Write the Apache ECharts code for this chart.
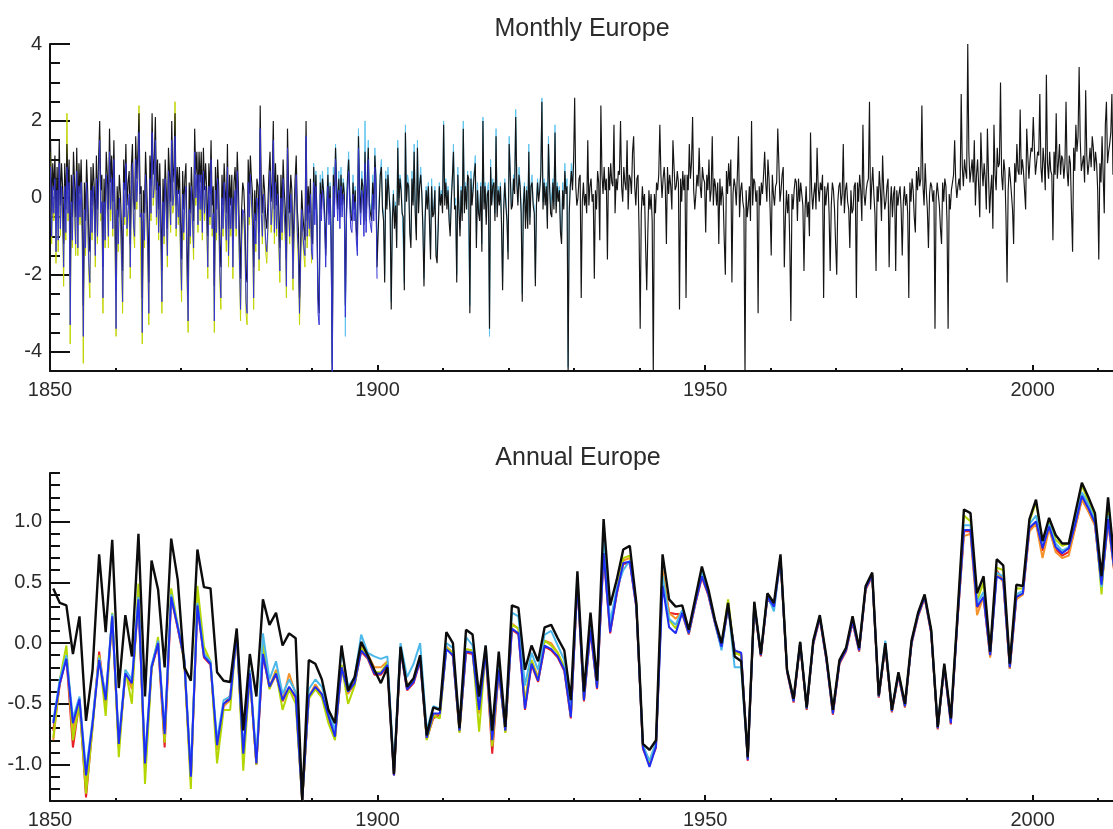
<!DOCTYPE html>
<html><head><meta charset="utf-8">
<script src="https://cdn.jsdelivr.net/npm/echarts@6/dist/echarts.min.js"></script>
<style>html,body{margin:0;padding:0;background:#fff}#c{width:1113px;height:829px}</style>
</head><body><div id="c"></div>
<script>
// ---------- DATA ----------
const START_YEAR = 1850;
const SAMPLES_PER_YEAR = 6;           // monthly panel: values read at ~bi-monthly resolution
const xTickValues = [1850, 1900, 1950, 2000];
const monthlyYTicks = [-4, -2, 0, 2, 4];
const annualYTicks = [-1, -0.5, 0, 0.5, 1];
const monthlyTitle = 'Monthly Europe';
const annualTitle = 'Annual Europe';

// Monthly panel, black series (6 values per year from 1850)
const monthlyBlack = [
 1.5,-0.4,0.9,0.2,1.1,-0.6, 0.8,-0.4,1.5,-0.2,0.9,0.3, -1.2,0.9,-0.3,1.4,0.2,1.0, -2.0,0.6,-0.5,1.2,0.4,-0.5, 1.3,-0.6,0.9,0.1,1.0,-0.2,
 -2.8,0.4,-0.6,1.0,0.2,-1.0, -1.4,0.8,-0.2,0.9,0.3,-0.9, 1.1,-0.3,1.0,2.0,0.2,0.6, -1.8,0.5,-0.4,1.2,0.6,-0.3, 1.8,0.4,1.1,-0.1,1.5,-0.2,
 -2.4,0.3,-0.5,0.6,0.1,-0.8, -1.9,1.0,0.2,1.4,-0.2,0.4, 0.7,-1.2,0.8,1.4,-0.1,-0.3, 1.6,0.5,1.2,2.2,0.1,0.3, -2.6,0.2,-0.4,1.2,0.4,-0.6,
 -2.2,1.1,0.3,2.2,0.6,1.0, 2.1,0.2,1.0,-0.3,0.9,-0.3, -1.9,0.5,-0.4,1.0,0.2,-0.8, 1.3,0.6,-0.1,2.0,0.4,0.8, 2.2,-0.2,0.8,0.1,0.8,-0.6,
 -1.6,0.7,-0.3,0.5,0.9,-1.2, -2.4,0.4,-0.4,0.8,0.0,-0.6, 1.8,0.6,1.2,-0.1,1.2,0.4, 1.2,-0.3,1.3,0.2,0.9,0.2, -1.0,0.9,0.1,1.5,-0.2,0.3,
 -2.3,0.8,-0.3,1.0,0.3,-1.2, -1.8,0.6,-0.2,0.9,0.2,-0.4, 1.4,-0.8,0.6,-0.2,0.6,-1.1, 0.4,0.8,-0.2,1.2,0.3,-0.9, -2.1,-0.3,0.4,0.2,-0.5,-2.0,
 -2.2,1.0,0.1,1.1,0.5,0.1, -1.8,0.2,-0.6,0.5,0.3,-0.9, 2.4,0.2,-0.4,0.6,0.2,-0.5, -0.8,-0.2,0.6,1.2,-0.1,0.4, 2.0,-0.3,0.9,-0.2,0.6,-0.4,
 -1.3,0.6,-0.3,1.0,0.2,-0.3, -1.6,1.8,0.3,-0.4,0.6,0.2, -1.4,-0.4,0.5,1.1,-0.3,-0.8, -2.6,-1.2,0.2,-0.4,-0.8,-1.1, 2.0,-0.6,0.3,-0.4,0.5,-1.0,
 -1.2,0.8,-0.3,0.6,-0.5,-2.6, -3.0,0.4,-0.3,0.5,0.2,-0.4, -1.5,-0.2,0.6,-0.4,0.3,-1.1, -4.6,0.6,-0.2,1.3,0.3,-0.3, 0.5,-0.5,0.6,-0.2,0.4,0.1,
 -2.8,-0.3,0.5,1.0,0.1,-0.5, -0.6,0.4,-0.3,0.2,-0.8,-1.2, 1.6,0.2,-0.4,0.5,0.3,-0.7, 1.2,-0.6,0.4,1.3,-0.2,-0.4, -0.6,0.4,-0.3,1.1,0.5,-1.8,
 -0.9,-0.2,0.6,0.8,-0.3,-0.6, -2.2,0.5,-0.3,0.6,0.1,-0.4, -2.9,-0.6,0.1,-0.8,-0.2,-1.3, 1.3,-0.2,0.5,0.2,-0.4,-0.5, -2.4,1.7,-0.1,0.4,0.3,-0.9,
 -1.3,0.5,-0.2,1.2,-0.4,-1.1, 1.3,-0.4,0.3,0.6,0.1,-0.8, -2.3,-0.6,0.2,-0.3,0.3,-0.6, -1.6,0.3,-0.5,-0.4,0.2,-1.5, -1.7,-0.8,0.3,-0.2,0.1,-0.4,
 1.9,-0.2,0.4,-0.3,0.2,-0.6, -1.0,-0.1,0.5,1.2,-0.3,-0.2, -2.2,0.6,-0.3,-1.0,0.2,-0.6, 1.8,-0.4,0.3,-0.3,0.6,0.5, -3.0,0.5,-0.2,0.2,0.6,0.9,
 -1.3,0.2,-0.4,-0.6,0.3,-1.4, 2.0,-0.3,0.3,-0.7,0.1,0.2, -3.4,0.8,-0.2,0.3,0.4,-0.6, 1.6,-0.5,0.2,-0.2,0.3,-0.7, -2.4,-0.3,0.4,-0.2,-0.6,-1.6,
 1.4,0.6,-0.3,-0.2,0.5,0.1, 2.1,0.4,-0.2,0.6,0.3,-0.4, -2.7,-0.2,0.3,-0.8,0.2,-0.8, 1.2,-0.7,0.3,0.4,-0.2,-0.4, -2.3,-0.2,0.4,-0.1,0.2,0.6,
 2.5,-0.3,0.4,-0.2,0.3,-0.8, 1.4,0.3,-0.4,-0.5,0.4,-0.3, 1.7,-0.4,0.3,-0.1,0.2,-0.9, -1.2,0.2,-0.3,0.7,0.1,0.3, -4.6,-0.4,0.3,0.7,0.2,0.9,
 2.6,0.3,-0.2,0.0,0.5,0.6, -2.6,-0.1,0.4,-0.2,0.1,-0.4, 1.5,-0.2,0.3,0.5,-0.1,0.1, -2.1,0.2,-0.3,0.7,0.4,-1.1, 2.4,0.6,0.1,0.8,0.2,0.5,
 -1.6,0.8,0.2,0.9,0.4,0.3, 1.9,-0.4,0.5,0.2,0.7,0.6, 2.0,0.3,-0.1,0.8,0.4,0.2, 1.5,-0.3,0.6,0.5,0.1,1.2, 1.6,0.3,-0.2,0.5,0.6,-0.9,
 -3.4,-0.4,0.3,-0.2,0.1,-1.3, -2.4,-0.9,0.2,-0.3,0.1,-0.6, -4.6,0.1,-0.4,0.4,0.2,0.6, 1.9,0.6,0.0,0.5,0.8,0.3, -1.2,0.8,0.1,0.6,0.3,-0.3,
 1.5,0.8,0.2,0.3,0.7,0.4, -2.9,0.5,-0.1,0.7,0.2,0.6, -2.6,0.6,0.2,1.4,0.5,0.9, 2.1,0.2,-0.3,0.1,0.6,0.3, 1.3,0.3,0.0,0.8,0.5,0.4,
 -0.9,0.6,0.2,1.0,-0.1,0.2, 1.6,-0.2,0.5,0.3,-0.2,0.4, -1.2,0.5,-0.2,0.3,0.0,-1.1, -2.0,0.7,0.1,0.9,0.3,1.0, -2.2,0.1,0.5,0.3,-0.2,0.6,
 1.6,-0.5,0.2,0.4,-0.1,-0.3, -4.6,0.2,-0.5,-0.2,0.3,-0.6, 2.0,-0.2,0.5,0.4,-0.1,0.2, -3.0,0.3,-0.2,0.4,0.1,0.6, 1.2,0.4,-0.1,1.0,0.5,-0.3,
 -1.5,0.6,0.1,-0.2,0.3,0.4, 1.8,0.9,-0.1,0.2,0.6,0.8, -1.8,-0.5,0.2,-0.4,0.1,-1.2, -3.2,0.1,-0.3,0.2,0.5,0.4, -0.6,0.5,-0.1,0.4,0.1,-0.2,
 -1.9,-0.3,0.3,-0.5,-0.1,-1.0, 1.7,0.2,-0.3,0.1,0.4,-0.3, 1.3,0.3,-0.1,0.4,0.2,0.6, -2.6,0.3,-0.2,0.2,0.4,-0.4, -1.9,-0.2,0.4,0.2,-0.3,-1.2,
 -2.0,-0.1,0.3,0.4,-0.2,0.1, 1.4,-0.4,0.2,0.4,-0.1,-0.3, -1.3,0.2,-0.4,-0.3,0.3,0.4, -2.6,0.4,-0.1,0.6,0.2,-0.6, 1.9,0.1,-0.2,0.2,0.4,0.5,
 2.5,-0.3,0.3,0.8,0.1,-0.4, -1.9,0.3,-0.1,0.7,0.2,-0.6, 1.1,0.2,-0.3,-0.1,0.3,0.5, -1.8,-0.2,0.3,-0.5,0.1,0.3, -1.9,0.2,-0.2,0.1,0.3,-0.3,
 -1.5,-0.1,0.3,-0.2,0.1,-0.4, -2.6,0.4,-0.1,0.5,0.2,-0.5, -0.9,0.7,0.2,0.8,0.3,0.5, 2.4,0.3,-0.2,0.9,0.2,-0.3, -1.3,0.1,0.4,0.3,-0.1,0.2,
 -3.4,0.0,0.4,0.1,-0.2,-0.8, -1.2,0.4,-0.1,0.5,0.3,-0.6, -3.4,0.1,-0.3,0.2,0.4,0.6, 1.5,0.4,0.0,0.3,0.5,0.2, 2.7,0.8,0.3,1.0,0.7,0.5,
 4.0,1.2,0.4,0.7,1.0,0.4, 1.5,-0.2,0.6,1.0,0.3,-0.5, 1.7,0.8,0.3,0.9,0.5,-0.3, 1.8,0.6,-0.4,0.2,0.6,-0.8, 1.9,0.6,0.2,1.3,0.8,0.9,
 3.0,0.6,0.2,1.0,0.7,-0.5, -2.2,0.2,0.8,0.5,0.1,-0.3, -1.2,0.9,0.4,1.4,0.7,0.6, 2.3,0.6,1.0,0.7,0.2,-0.3, 1.8,1.1,0.5,1.0,1.3,1.2,
 2.1,1.3,0.6,0.9,1.2,1.1, 2.7,0.8,0.4,1.3,0.9,0.2, 3.2,0.9,0.5,1.2,0.7,0.6, -1.1,1.2,0.6,2.2,0.5,0.9, 1.4,0.6,1.1,1.0,0.5,0.9,
 2.5,0.7,0.3,1.1,0.9,-0.3, -1.4,1.3,0.7,1.9,1.2,1.6, 3.4,1.5,0.7,0.9,1.1,0.4, 2.8,1.1,0.6,0.9,1.3,0.8, 1.6,1.3,0.7,1.2,0.9,0.2,
 -1.6,0.9,0.4,1.6,0.6,-0.4, 1.9,2.5,0.9,1.2,1.4,1.7, 2.7,0.6,1.1,1.3,0.7,0.4
];
// Monthly panel, blue series (from 1850)
const monthlyBlue = [
 0.8,-1.0,0.3,-0.4,0.5,-1.4, 0.2,-1.1,0.9,-0.8,0.3,-0.4, -1.8,0.3,-0.9,0.8,-0.4,0.4, -3.3,-0.1,-1.1,0.6,-0.2,-1.2, 0.7,-1.3,0.3,-0.5,0.4,-0.9,
 -3.6,-0.3,-1.3,0.4,-0.4,-1.7, -2.2,0.2,-0.9,0.3,-0.3,-1.5, 0.5,-1.0,0.4,1.5,-0.4,-0.1, -2.6,-0.1,-1.1,0.6,0.0,-1.0, 1.2,-0.3,0.5,-0.8,1.0,-0.8,
 -3.4,-0.3,-1.2,0.0,-0.5,-1.5, -2.7,0.4,-0.5,0.9,-0.8,-0.3, 0.1,-1.8,0.2,0.9,-0.7,-1.0, 1.0,-0.1,0.6,1.7,-0.5,-0.4, -3.5,-0.4,-1.1,0.6,-0.2,-1.3,
 -3.0,0.5,-0.4,1.7,0.0,0.3, 1.5,-0.5,0.4,-0.9,0.3,-1.0, -2.7,-0.1,-1.0,0.5,-0.4,-1.5, 0.7,0.0,-0.7,1.5,-0.2,0.1, 1.6,-0.8,0.2,-0.5,0.2,-1.3,
 -2.4,0.1,-0.9,0.0,0.3,-1.9, -3.2,-0.3,-1.0,0.3,-0.6,-1.3, 1.2,0.0,0.6,-0.7,0.6,-0.3, 0.6,-0.9,0.7,-0.4,0.3,-0.5, -1.8,0.3,-0.5,1.0,-0.8,-0.4,
 -3.2,0.2,-0.9,0.5,-0.3,-1.9, -2.6,0.0,-0.8,0.4,-0.4,-1.1, 0.8,-1.5,0.0,-0.8,0.0,-1.8, -0.2,0.2,-0.8,0.7,-0.3,-1.6, -2.9,-1.0,-0.3,-0.4,-1.1,-2.7,
 -3.0,0.4,-0.5,0.6,-0.1,-0.6, -2.6,-0.4,-1.2,0.0,-0.3,-1.6, 1.8,-0.4,-1.0,0.1,-0.4,-1.1, -1.4,-0.8,0.1,0.7,-0.7,-0.2, 1.5,-0.9,0.4,-0.8,0.1,-1.0,
 -1.9,0.0,-0.9,0.5,-0.4,-0.9, -2.3,1.3,-0.3,-1.0,0.1,-0.4, -2.1,-0.9,0.0,0.6,-0.9,-1.4, -3.0,-1.6,-0.3,-0.9,-1.3,-1.5, 1.6,-1.0,-0.2,-0.8,0.1,-1.4,
 -1.6,0.4,-0.7,0.3,-0.9,-3.0, -3.3,0.1,-0.6,0.2,-0.1,-0.7, -1.8,-0.5,0.3,-0.7,0.0,-1.4, -4.6,0.3,-0.5,1.0,0.0,-0.6, 0.2,-0.8,0.3,-0.5,0.1,-0.2,
 -3.1,-0.6,0.2,0.7,-0.2,-0.8, -0.9,0.1,-0.6,-0.1,-1.1,-1.5, 1.3,-0.1,-0.7,0.2,0.0,-1.0, 0.9,-0.9,0.1,1.0,-0.5,-0.7, -0.9,0.1,-0.6,0.8,0.2,-2.1
];
// Monthly panel, yellow-green series (from 1850)
const monthlyYellow = [
 1.2,-1.2,0.2,-0.6,0.4,-1.7, 0.5,-1.4,0.8,-1.0,0.2,-0.7, -2.3,0.6,-1.1,2.2,-0.6,0.3, -3.8,-0.4,-1.3,0.5,-0.4,-1.5, 0.9,-1.5,0.3,-0.7,0.3,-1.2,
 -4.3,-0.6,-1.5,0.4,-0.6,-2.0, -2.6,0.0,-1.1,0.2,-0.5,-1.8, 0.4,-1.2,0.3,1.6,-0.6,-0.4, -3.0,-0.3,-1.3,0.6,-0.2,-1.3, 1.1,-0.6,0.4,-1.0,0.9,-1.1,
 -3.6,-0.4,-1.4,-0.2,-0.7,-1.8, -3.0,0.2,-0.7,0.8,-1.0,-0.6, 0.0,-2.1,0.1,0.8,-0.9,-1.3, 1.1,-0.3,0.5,2.4,-0.7,-0.7, -3.8,-0.6,-1.3,0.6,-0.4,-1.6,
 -3.3,0.3,-0.6,1.6,-0.2,0.1, 1.4,-0.7,0.3,-1.1,0.2,-1.3, -3.0,-0.3,-1.2,0.4,-0.6,-1.8, 0.6,-0.2,-0.9,1.4,-0.4,-0.2, 2.5,-1.0,0.1,-0.7,0.1,-1.6,
 -2.7,-0.1,-1.1,-0.1,0.2,-2.2, -3.5,-0.5,-1.2,0.2,-0.8,-1.6, 1.1,-0.2,0.5,-0.9,0.5,-0.6, 0.5,-1.1,0.6,-0.6,0.2,-0.8, -2.1,0.1,-0.7,0.9,-1.0,-0.7,
 -3.5,0.0,-1.1,0.4,-0.5,-2.2, -2.9,-0.2,-1.0,0.3,-0.6,-1.4, 0.7,-1.8,-0.1,-1.0,-0.2,-2.1, -0.4,0.0,-1.0,0.6,-0.5,-1.9, -3.2,-1.3,-0.4,-0.6,-1.3,-3.0,
 -3.3,0.2,-0.7,0.5,-0.3,-0.9, -2.9,-0.6,-1.4,-0.1,-0.5,-1.9, 1.7,-0.6,-1.2,0.0,-0.6,-1.4, -1.7,-1.0,0.0,0.6,-0.9,-0.5, 1.4,-1.2,0.3,-1.0,0.0,-1.3,
 -2.2,-0.2,-1.1,0.4,-0.6,-1.2, -2.6,1.1,-0.5,-1.2,0.0,-0.7, -2.4,-1.2,-0.1,0.5,-1.1,-1.7, -3.3,-1.9,-0.5,-1.1,-1.5,-1.8, 1.5,-1.3,-0.3,-1.0,0.0,-1.7
];
const monthlyCyanStart = 1890;
// Monthly panel, light-blue series (from 1890)
const monthlyCyan = [
 -1.0,0.9,-0.2,0.7,-0.4,-2.4, -2.8,0.6,-0.2,0.7,0.3,-0.3, -1.3,0.0,0.8,-0.3,0.4,-0.9, -4.3,0.8,-0.1,1.4,0.4,-0.1, 0.7,-0.3,0.8,-0.1,0.5,0.3,
 -3.6,-0.1,0.6,1.2,0.2,-0.3, -0.4,0.6,-0.2,0.3,-0.6,-1.0, 1.8,0.4,-0.3,0.7,0.4,-0.5, 2.0,-0.4,0.5,1.5,-0.1,-0.2, -0.4,0.6,-0.2,1.3,0.6,-1.6,
 -0.7,0.0,0.7,1.0,-0.2,-0.4, -2.0,0.7,-0.2,0.8,0.2,-0.2, -2.7,-0.4,0.2,-0.6,-0.1,-1.1, 1.5,0.0,0.6,0.4,-0.3,-0.3, -2.2,1.9,0.0,0.6,0.4,-0.7,
 -1.1,0.7,-0.1,1.4,-0.3,-0.9, 1.5,-0.2,0.4,0.8,0.2,-0.6, -2.1,-0.4,0.3,-0.1,0.4,-0.4, -1.4,0.5,-0.4,-0.2,0.3,-1.3, -1.5,-0.6,0.4,0.0,0.2,-0.2,
 2.0,0.0,0.5,-0.1,0.3,-0.4, -0.8,0.1,0.6,1.4,-0.2,0.0, -2.0,0.8,-0.2,-0.8,0.3,-0.4, 2.0,-0.2,0.4,-0.1,0.7,0.7, -2.8,0.7,-0.1,0.4,0.7,1.1,
 -1.1,0.4,-0.3,-0.4,0.4,-1.2, 2.1,-0.1,0.4,-0.5,0.2,0.4, -3.6,1.0,-0.1,0.5,0.5,-0.4, 1.8,-0.3,0.3,0.0,0.4,-0.5, -2.2,-0.1,0.5,0.0,-0.5,-1.4,
 1.6,0.8,-0.2,0.0,0.6,0.3, 2.3,0.6,-0.1,0.8,0.4,-0.2, -2.5,0.0,0.4,-0.6,0.3,-0.6, 1.4,-0.5,0.4,0.6,-0.1,-0.2, -2.1,0.0,0.5,0.1,0.3,0.8,
 2.6,-0.1,0.5,0.0,0.4,-0.6, 1.6,0.5,-0.3,-0.3,0.5,-0.1, 1.9,-0.2,0.4,0.1,0.3,-0.7, -1.0,0.4,-0.2,0.9,0.2,0.5, -4.4,-0.2,0.4,0.9,0.3,1.1
];

// Annual panel (one value per year from 1850)
const annualBlack = [
 0.45,0.33,0.31,-0.09,0.22,-0.64,-0.22,0.73,0.09,0.85,
 -0.37,0.23,-0.11,0.90,-0.44,0.68,0.44,-0.20,0.86,0.52,
 -0.20,-0.31,0.77,0.46,0.45,-0.24,-0.31,-0.32,0.12,-0.72,
 -0.09,-0.44,0.36,0.15,0.25,-0.02,0.08,0.04,-1.30,-0.14,
 -0.17,-0.30,-0.55,-0.66,-0.02,-0.39,-0.28,0.01,-0.10,-0.22,
 -0.33,-0.20,-1.08,-0.03,-0.36,-0.29,-0.10,-0.76,-0.53,-0.55,
 0.09,0.00,-0.70,0.11,0.07,-0.44,-0.02,-0.72,-0.07,-0.69,
 0.31,0.29,-0.22,-0.02,-0.15,0.13,0.15,0.04,-0.06,-0.47,
 0.59,-0.40,0.25,-0.31,1.02,0.31,0.52,0.77,0.80,0.33,
 -0.83,-0.88,-0.80,0.73,0.36,0.30,0.31,0.11,0.37,0.63,
 0.44,0.19,0.00,0.33,-0.11,-0.15,-0.94,0.34,-0.09,0.41,
 0.33,0.73,-0.22,-0.46,0.01,-0.53,0.02,0.23,-0.11,-0.55,
 -0.14,-0.04,0.22,-0.04,0.47,0.58,-0.43,0.00,-0.55,-0.24,
 -0.50,0.02,0.25,0.40,0.11,-0.69,-0.17,-0.62,0.22,1.10,
 1.07,0.41,0.55,-0.07,0.69,0.64,-0.17,0.48,0.47,1.02,
 1.18,0.84,1.03,0.89,0.82,0.82,1.07,1.32,1.20,1.07,
 0.55,1.20,0.65
];
const annualBlue = [
 -0.66,-0.33,-0.13,-0.66,-0.46,-1.09,-0.66,-0.14,-0.47,0.22,
 -0.83,-0.25,-0.33,0.36,-0.99,-0.20,0.00,-0.75,0.38,0.13,
 -0.14,-1.10,0.31,-0.11,-0.17,-0.84,-0.50,-0.46,0.08,-0.91,
 -0.25,-0.99,-0.09,-0.36,-0.25,-0.47,-0.36,-0.44,-1.30,-0.44,
 -0.36,-0.42,-0.60,-0.77,-0.20,-0.40,-0.33,-0.06,-0.12,-0.25,
 -0.25,-0.18,-1.09,-0.05,-0.38,-0.32,-0.14,-0.78,-0.58,-0.58,
 -0.05,-0.10,-0.72,-0.07,-0.08,-0.55,-0.08,-0.80,-0.22,-0.72,
 0.12,0.08,-0.54,-0.17,-0.31,-0.02,-0.05,-0.11,-0.22,-0.61,
 0.50,-0.47,0.11,-0.37,0.74,0.09,0.41,0.66,0.67,0.30,
 -0.86,-1.02,-0.85,0.47,0.13,0.08,0.25,0.08,0.33,0.55,
 0.40,0.17,-0.03,0.30,-0.06,-0.08,-0.96,0.32,-0.10,0.38,
 0.30,0.70,-0.23,-0.48,0.00,-0.54,0.00,0.21,-0.13,-0.58,
 -0.16,-0.06,0.18,-0.06,0.45,0.56,-0.44,-0.02,-0.56,-0.26,
 -0.52,0.00,0.23,0.38,0.09,-0.70,-0.19,-0.66,0.18,0.93,
 0.93,0.30,0.38,-0.10,0.55,0.52,-0.20,0.38,0.41,0.95,
 1.00,0.78,0.96,0.79,0.74,0.78,0.98,1.21,1.11,0.99,
 0.48,1.02,0.58
];
const annualCyan = [
 -0.64,-0.30,-0.10,-0.62,-0.44,-1.05,-0.63,-0.12,-0.44,0.24,
 -0.80,-0.22,-0.30,0.38,-0.95,-0.18,0.02,-0.72,0.40,0.14,
 -0.12,-1.06,0.33,-0.09,-0.15,-0.80,-0.47,-0.44,0.10,-0.88,
 -0.22,-0.95,0.08,-0.30,-0.15,-0.42,-0.30,-0.40,-1.26,-0.38,
 -0.30,-0.36,-0.56,-0.72,-0.05,-0.36,-0.28,0.07,-0.08,-0.11,
 -0.13,-0.11,-1.04,0.00,-0.28,-0.17,0.00,-0.72,-0.52,-0.54,
 0.00,-0.04,-0.68,0.05,-0.02,-0.50,-0.02,-0.74,-0.15,-0.68,
 0.25,0.22,-0.35,-0.08,-0.22,0.07,0.10,-0.02,-0.14,-0.55,
 0.55,-0.44,0.18,-0.34,0.85,0.17,0.45,0.60,0.68,0.31,
 -0.84,-0.97,-0.82,0.55,0.20,0.15,0.27,0.09,0.34,0.58,
 0.41,0.17,-0.06,0.31,-0.20,-0.20,-0.95,0.33,-0.09,0.39,
 0.26,0.71,-0.22,-0.47,0.01,-0.53,0.01,0.22,-0.12,-0.56,
 -0.15,-0.05,0.20,-0.05,0.46,0.57,-0.43,0.02,-0.55,-0.25,
 -0.51,0.01,0.24,0.39,0.10,-0.69,-0.18,-0.64,0.20,0.97,
 0.97,0.33,0.42,-0.09,0.58,0.55,-0.19,0.40,0.43,0.98,
 1.05,0.80,0.98,0.82,0.76,0.79,1.00,1.24,1.14,1.01,
 0.46,1.05,0.60
];
const annualYellow = [
 -0.78,-0.30,-0.02,-0.80,-0.50,-1.24,-0.70,-0.10,-0.60,0.25,
 -0.94,-0.22,-0.50,0.49,-1.16,-0.22,0.05,-0.82,0.45,0.15,
 -0.16,-1.20,0.47,-0.03,-0.15,-0.99,-0.55,-0.55,0.10,-1.05,
 -0.26,-1.00,0.00,-0.38,-0.24,-0.55,-0.38,-0.50,-1.30,-0.46,
 -0.38,-0.45,-0.66,-0.80,-0.18,-0.50,-0.35,-0.04,-0.12,-0.24,
 -0.24,-0.16,-1.08,-0.04,-0.36,-0.30,-0.12,-0.80,-0.60,-0.62,
 -0.04,-0.08,-0.74,-0.05,-0.06,-0.73,-0.06,-0.85,-0.20,-0.74,
 0.15,0.12,-0.50,-0.14,-0.30,0.02,-0.02,-0.08,-0.20,-0.60,
 0.52,-0.46,0.14,-0.36,0.78,0.12,0.43,0.70,0.72,0.32,
 -0.85,-0.98,-0.84,0.55,0.19,0.12,0.26,0.08,0.34,0.58,
 0.41,0.18,-0.02,0.36,-0.08,-0.10,-0.95,0.33,-0.09,0.40,
 0.31,0.71,-0.22,-0.47,0.01,-0.54,0.01,0.22,-0.12,-0.57,
 -0.15,-0.05,0.19,-0.05,0.46,0.57,-0.44,-0.01,-0.56,-0.25,
 -0.52,0.01,0.24,0.39,0.10,-0.70,-0.18,-0.64,0.20,1.05,
 1.00,0.35,0.50,-0.08,0.62,0.60,-0.19,0.45,0.45,1.00,
 1.16,0.82,1.00,0.85,0.80,0.82,1.03,1.30,1.16,1.04,
 0.40,1.12,0.60
];
const annualOrange = [
 -0.80,-0.32,-0.10,-0.72,-0.48,-1.15,-0.66,-0.10,-0.50,0.22,
 -0.86,-0.24,-0.38,0.40,-1.05,-0.20,0.02,-0.80,0.40,0.13,
 -0.14,-1.12,0.36,-0.08,-0.16,-0.88,-0.52,-0.47,0.09,-0.95,
 -0.25,-1.00,-0.05,-0.36,-0.22,-0.47,-0.25,-0.42,-1.30,-0.44,
 -0.34,-0.42,-0.60,-0.77,-0.18,-0.42,-0.32,-0.02,-0.09,-0.20,
 -0.20,-0.15,-1.08,-0.04,-0.35,-0.30,-0.12,-0.78,-0.60,-0.58,
 -0.03,-0.08,-0.72,-0.05,-0.06,-0.58,-0.06,-0.84,-0.20,-0.72,
 0.16,0.12,-0.48,-0.14,-0.28,0.02,0.00,-0.08,-0.20,-0.60,
 0.52,-0.47,0.13,-0.37,0.78,0.12,0.42,0.68,0.70,0.31,
 -0.85,-0.97,-0.82,0.60,0.25,0.20,0.26,0.08,0.33,0.56,
 0.40,0.17,-0.03,0.31,-0.08,-0.10,-0.95,0.32,-0.10,0.38,
 0.30,0.70,-0.23,-0.48,0.00,-0.54,0.00,0.21,-0.13,-0.58,
 -0.16,-0.06,0.18,-0.06,0.45,0.56,-0.44,-0.02,-0.56,-0.26,
 -0.52,0.00,0.23,0.38,0.09,-0.70,-0.19,-0.65,0.18,0.88,
 0.90,0.23,0.38,-0.12,0.58,0.50,-0.21,0.36,0.40,0.92,
 0.98,0.70,0.94,0.75,0.70,0.72,0.95,1.18,1.08,0.97,
 0.46,1.00,0.56
];
const annualRed = [
 -0.72,-0.34,-0.12,-0.86,-0.48,-1.27,-0.68,-0.07,-0.49,0.20,
 -0.85,-0.26,-0.35,0.35,-1.02,-0.21,-0.01,-0.86,0.37,0.12,
 -0.15,-1.12,0.30,-0.12,-0.18,-0.86,-0.51,-0.43,0.07,-0.93,
 -0.26,-1.00,-0.10,-0.37,-0.26,-0.48,-0.37,-0.45,-1.30,-0.45,
 -0.37,-0.43,-0.61,-0.78,-0.21,-0.41,-0.34,-0.07,-0.13,-0.26,
 -0.26,-0.19,-1.09,-0.06,-0.39,-0.33,-0.15,-0.79,-0.62,-0.59,
 -0.03,-0.11,-0.73,-0.08,-0.09,-0.56,-0.09,-0.91,-0.23,-0.73,
 0.11,0.07,-0.55,-0.18,-0.32,-0.03,-0.06,-0.12,-0.23,-0.62,
 0.49,-0.48,0.10,-0.38,0.73,0.08,0.40,0.65,0.66,0.29,
 -0.87,-1.00,-0.86,0.55,0.25,0.24,0.24,0.07,0.32,0.54,
 0.39,0.16,-0.04,0.29,-0.07,-0.09,-0.97,0.31,-0.11,0.37,
 0.29,0.69,-0.24,-0.49,-0.01,-0.55,-0.01,0.20,-0.14,-0.59,
 -0.17,-0.07,0.17,-0.07,0.44,0.55,-0.45,-0.03,-0.57,-0.27,
 -0.53,-0.01,0.22,0.37,0.08,-0.71,-0.20,-0.67,0.17,0.92,
 0.92,0.29,0.37,-0.11,0.60,0.51,-0.21,0.37,0.40,0.94,
 0.99,0.76,0.95,0.77,0.72,0.75,0.96,1.19,1.09,0.97,
 0.47,1.00,0.57
];

// ---------- CHART ----------
const FONT = "'Liberation Sans', Arial, Helvetica, sans-serif";
const TXT = '#2b2b2b';
const toMonthly = (arr, start) => arr.map((v, i) => [start + (i + 0.5) / SAMPLES_PER_YEAR, v]);
const toAnnual = arr => arr.map((v, i) => [START_YEAR + i + 0.5, v]);

const X_MIN = 1850, X_MAX = 2015;
const gridW = 1081;

function xMajor(grid) {
  return { type: 'value', gridIndex: grid, min: X_MIN, max: X_MAX, position: 'bottom',
    axisLine: { show: true, onZero: false, lineStyle: { color: '#111', width: 2 } },
    axisTick: { show: true, inside: true, length: 6, customValues: xTickValues, lineStyle: { color: '#111', width: 2 } },
    axisLabel: { show: true, customValues: xTickValues, margin: 9, fontSize: 20, color: TXT, fontFamily: FONT, formatter: v => String(v) },
    splitLine: { show: false } };
}
function xMinor(grid) {
  return { type: 'value', gridIndex: grid, min: X_MIN, max: X_MAX, interval: 10, position: 'bottom', offset: 0,
    axisLine: { show: false, onZero: false }, axisTick: { show: true, inside: true, length: 3, lineStyle: { color: '#111', width: 2 } },
    axisLabel: { show: false }, splitLine: { show: false } };
}
function yMajor(grid, min, max, ticks, fmt) {
  return { type: 'value', gridIndex: grid, min, max, position: 'left',
    axisLine: { show: true, onZero: false, lineStyle: { color: '#111', width: 2 } },
    axisTick: { show: true, inside: true, length: 20, customValues: ticks, lineStyle: { color: '#111', width: 2 } },
    axisLabel: { show: true, customValues: ticks, margin: 8, fontSize: 20, color: TXT, fontFamily: FONT, formatter: fmt },
    splitLine: { show: false } };
}
function yMinor(grid, min, max, step) {
  return { type: 'value', gridIndex: grid, min, max, interval: step, position: 'left', offset: 0,
    axisLine: { show: false, onZero: false }, axisTick: { show: true, inside: true, length: 10, lineStyle: { color: '#111', width: 2 } },
    axisLabel: { show: false }, splitLine: { show: false } };
}
const lineS = (name, data, color, width, xi, yi) => ({
  name, type: 'line', data, xAxisIndex: xi, yAxisIndex: yi, showSymbol: false, symbol: 'none',
  lineStyle: { color, width }, itemStyle: { color }, silent: true, clip: true
});

const chart = echarts.init(document.getElementById('c'), null, { renderer: 'canvas' });
chart.setOption({
  animation: false,
  backgroundColor: '#ffffff',
  title: [
    { text: monthlyTitle, left: 577, top: 12, textAlign: 'center',
      textStyle: { fontSize: 25, fontWeight: 'normal', color: TXT, fontFamily: FONT } },
    { text: annualTitle, left: 573, top: 441, textAlign: 'center',
      textStyle: { fontSize: 25, fontWeight: 'normal', color: TXT, fontFamily: FONT } }
  ],
  grid: [
    { left: 50, top: 44, width: gridW, height: 327, outerBoundsMode: 'none', containLabel: false },
    { left: 50, top: 473, width: gridW, height: 328, outerBoundsMode: 'none', containLabel: false }
  ],
  xAxis: [ xMajor(0), xMinor(0), xMajor(1), xMinor(1) ],
  yAxis: [
    yMajor(0, -4.5, 4, monthlyYTicks, v => String(v)),
    yMinor(0, -4.5, 4, 0.5),
    yMajor(1, -1.3, 1.4, annualYTicks, v => Number(v).toFixed(1)),
    yMinor(1, -1.3, 1.4, 0.1)
  ],
  series: [
    lineS('m-yellow', toMonthly(monthlyYellow, START_YEAR), '#c2d400', 1, 0, 0),
    lineS('m-cyan', toMonthly(monthlyCyan, monthlyCyanStart), '#5ec4ee', 1, 0, 0),
    lineS('m-black', toMonthly(monthlyBlack, START_YEAR), '#151515', 1.15, 0, 0),
    lineS('m-blue', toMonthly(monthlyBlue, START_YEAR), '#3434d2', 1, 0, 0),
    lineS('a-red', toAnnual(annualRed), '#e8202a', 2, 2, 2),
    lineS('a-orange', toAnnual(annualOrange), '#f5922a', 2, 2, 2),
    lineS('a-yellow', toAnnual(annualYellow), '#b4d600', 2, 2, 2),
    lineS('a-cyan', toAnnual(annualCyan), '#4cb8ea', 2, 2, 2),
    lineS('a-blue', toAnnual(annualBlue), '#1f2df2', 2, 2, 2),
    lineS('a-black', toAnnual(annualBlack), '#0c0c0c', 2.4, 2, 2)
  ]
});
</script></body></html>
